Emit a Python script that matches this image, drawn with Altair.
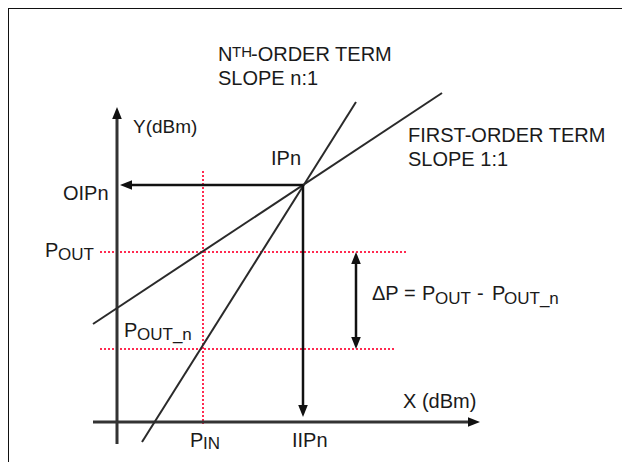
import altair as alt
import pandas as pd

# Diagram coordinates (origin where the X and Y axes cross, y upwards)
PIN = 86
IIPN = 186
OIPN = 237
POUT = 170
POUT_N = 73

# line segments: x, y, x2, y2
frame_x = [-109, -109]
frame_y = [414, 414]
frame_x2 = [513, -109]
frame_y2 = [414, -48]

axis_x = [0, -24]
axis_y = [-22, 0]
axis_x2 = [0, 357]
axis_y2 = [309, 0]

terms_x = [-24, 25]          # first-order, n-th order
terms_y = [98, -20]
terms_x2 = [325, 239]
terms_y2 = [329, 320]

arrow_x = [IIPN, IIPN, 239]
arrow_y = [OIPN, OIPN, POUT - 8]
arrow_x2 = [8, IIPN, 239]
arrow_y2 = [OIPN, 11, POUT_N + 8]

red_x = [-17, -17, PIN]
red_y = [POUT, POUT_N, 251]
red_x2 = [290, 278, PIN]
red_y2 = [POUT, POUT_N, -2]

# arrow heads (tip positions)
head_up_x = [0, 239]
head_up_y = [315, POUT]
head_down_x = [IIPN, 239]
head_down_y = [5, POUT_N]
head_left_x = [3]
head_left_y = [OIPN]
head_right_x = [363]
head_right_y = [0]

# labels
lab_text = ["N", "TH", "-ORDER TERM", "SLOPE n:1", "Y(dBm)", "IPn", "OIPn",
            "FIRST-ORDER TERM", "SLOPE 1:1",
            "P", "OUT", "P", "OUT_n",
            "ΔP =", "P", "OUT", "-", "P", "OUT_n",
            "X (dBm)", "P", "IN", "IIPn"]
lab_x = [101, 115, 134, 101, 16, 154, -54,
         291, 291,
         -72, -59, 7, 20,
         255, 305, 318, 360, 375, 387,
         286, 73, 86, 175]
lab_y = [361, 365, 361, 337, 289, 257, 222,
         280, 256,
         165, 162, 85, 82,
         122, 122, 118, 122, 122, 118,
         14, -25, -27, -25]
lab_size = [20, 15, 20, 20, 19, 20, 20,
            20, 20,
            20, 17, 20, 17,
            20, 20, 17, 20, 20, 17,
            20, 20, 17, 20]

xs = alt.Scale(domain=[-109, 505], nice=False, zero=False)
ys = alt.Scale(domain=[-40, 414], nice=False, zero=False)


def segs(x, y, x2, y2, color, width, dash=None):
    df = pd.DataFrame({"x": x, "y": y, "x2": x2, "y2": y2})
    kw = dict(color=color, strokeWidth=width)
    if dash:
        kw["strokeDash"] = dash
    return alt.Chart(df).mark_rule(**kw).encode(
        x=alt.X("x:Q", scale=xs, axis=None),
        y=alt.Y("y:Q", scale=ys, axis=None),
        x2="x2:Q",
        y2="y2:Q",
    )


def heads(x, y, path, size=144):
    df = pd.DataFrame({"x": x, "y": y})
    return alt.Chart(df).mark_point(
        shape=path, size=size, filled=True, color="#111", opacity=1, strokeWidth=0
    ).encode(
        x=alt.X("x:Q", scale=xs, axis=None),
        y=alt.Y("y:Q", scale=ys, axis=None),
    )


labels = pd.DataFrame({"t": lab_text, "x": lab_x, "y": lab_y, "s": lab_size})
text = alt.Chart(labels).mark_text(
    align="left", baseline="alphabetic", font="Liberation Sans", color="#1a1a1a"
).encode(
    x=alt.X("x:Q", scale=xs, axis=None),
    y=alt.Y("y:Q", scale=ys, axis=None),
    text="t:N",
    size=alt.Size("s:Q", scale=None, legend=None),
)

chart = alt.layer(
    segs(frame_x, frame_y, frame_x2, frame_y2, "#111", 2),
    segs(red_x, red_y, red_x2, red_y2, "#ff2a50", 2, [2, 2]),
    segs(axis_x, axis_y, axis_x2, axis_y2, "#333", 3),
    segs(terms_x, terms_y, terms_x2, terms_y2, "#2a2a2a", 2),
    segs(arrow_x, arrow_y, arrow_x2, arrow_y2, "#111", 2.5),
    heads(head_up_x, head_up_y, "M0,0L0.8,2L-0.8,2Z"),
    heads(head_down_x, head_down_y, "M0,0L0.8,-2L-0.8,-2Z"),
    heads(head_left_x, head_left_y, "M0,0L2,0.8L2,-0.8Z"),
    heads(head_right_x, head_right_y, "M0,0L-2,0.8L-2,-0.8Z"),
    text,
).properties(
    width=614, height=454, padding=0, autosize=alt.AutoSizeParams(type="none")
).configure_view(stroke=None)

chart.save("out.html", embed_options={"renderer": "svg", "actions": False})
